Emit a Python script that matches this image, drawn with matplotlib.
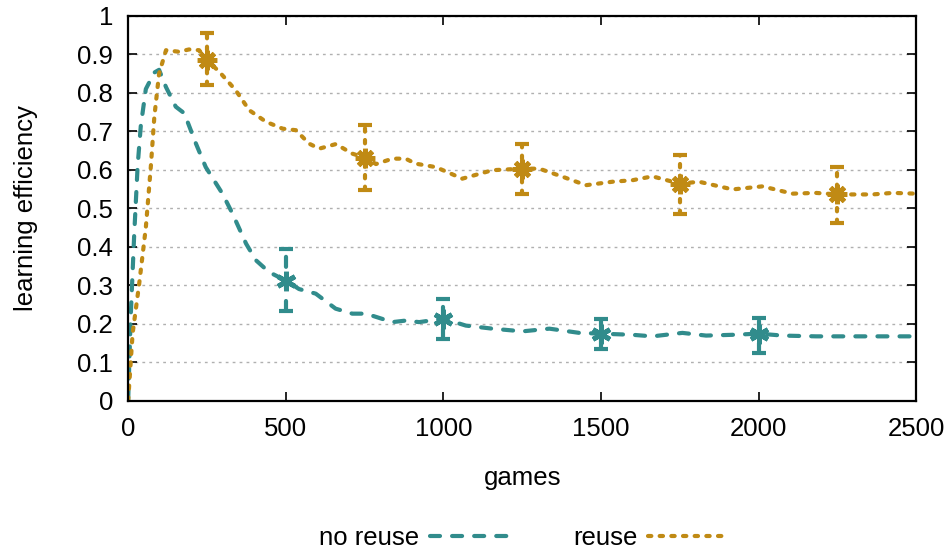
import numpy as np
import matplotlib.pyplot as plt

plt.rcParams['font.family'] = ['Liberation Sans', 'DejaVu Sans']

# no reuse curve
games_a = [0, 8, 19, 30, 40, 56, 83, 98, 120, 151, 178, 215, 246, 299, 331, 374, 405, 447,
           500, 542, 595, 658, 711, 754, 838, 880, 923, 1000, 1071, 1155, 1251, 1336, 1431,
           1500, 1600, 1663, 1758, 1833, 1917, 2000, 2076, 2182, 2288, 2393, 2500]
eff_a = [0, 0.217, 0.43, 0.61, 0.714, 0.81, 0.853, 0.86, 0.815, 0.764, 0.747, 0.668, 0.607,
         0.538, 0.486, 0.408, 0.365, 0.334, 0.312, 0.29, 0.278, 0.239, 0.226, 0.226, 0.204,
         0.208, 0.204, 0.213, 0.195, 0.187, 0.18, 0.187, 0.176, 0.174, 0.171, 0.167, 0.176,
         0.169, 0.171, 0.174, 0.169, 0.167, 0.167, 0.167, 0.167]
err_x_a = [500, 1000, 1500, 2000]
err_y_a = [0.312, 0.213, 0.174, 0.174]
err_lo_a = [0.234, 0.161, 0.133, 0.124]
err_hi_a = [0.395, 0.263, 0.211, 0.215]

# reuse curve
games_b = [0, 14, 35, 56, 72, 83, 98, 120, 161, 193, 225, 250, 289, 341, 384, 437, 490, 532,
           574, 606, 659, 711, 750, 786, 838, 880, 912, 976, 1060, 1155, 1250, 1304, 1378,
           1452, 1536, 1600, 1663, 1750, 1811, 1917, 2012, 2107, 2181, 2250, 2361, 2425, 2500]
eff_b = [0, 0.174, 0.304, 0.45, 0.61, 0.738, 0.85, 0.911, 0.907, 0.913, 0.911, 0.885, 0.855,
         0.807, 0.755, 0.725, 0.707, 0.703, 0.668, 0.655, 0.667, 0.642, 0.632, 0.615, 0.629,
         0.629, 0.616, 0.607, 0.577, 0.599, 0.603, 0.603, 0.582, 0.56, 0.569, 0.573, 0.583,
         0.564, 0.569, 0.549, 0.557, 0.538, 0.54, 0.536, 0.536, 0.54, 0.538]
err_x_b = [250, 750, 1250, 1750, 2250]
err_y_b = [0.885, 0.632, 0.603, 0.564, 0.536]
err_lo_b = [0.82, 0.548, 0.538, 0.486, 0.462]
err_hi_b = [0.955, 0.716, 0.667, 0.638, 0.608]

teal = '#318c8c'
gold = '#c08a14'
dash_a = (2.4, 2.9)
dash_b = (0.8, 2.0)

fig = plt.figure(figsize=(9.53, 5.51), dpi=100)
ax = fig.add_axes([0.1345, 0.273, 0.827, 0.698])

ax.plot(games_a, eff_a, color=teal, lw=3, dashes=dash_a, dash_capstyle='round',
        label='no reuse')
ax.plot(games_b, eff_b, color=gold, lw=3, dashes=dash_b, dash_capstyle='round',
        label='reuse')


def draw_err(x, y, lo, hi, color, dashes, marker):
    y = np.array(y)
    yerr = [y - np.array(lo), np.array(hi) - y]
    _, caps, bars = ax.errorbar(x, y, yerr=yerr, fmt='none', ecolor=color, elinewidth=3,
                                capsize=5, capthick=3)
    for b in bars:
        b.set_linestyle((0, dashes))
        b.set_capstyle('round')
    ax.plot(x, y, linestyle='none', marker=marker, ms=14, mew=3.5, color=color)


draw_err(err_x_a, err_y_a, err_lo_a, err_hi_a, teal, dash_a, (6, 2, 0))
draw_err(err_x_b, err_y_b, err_lo_b, err_hi_b, gold, dash_b, (8, 2, 0))

ax.set_xlim(0, 2500)
ax.set_ylim(0, 1)
ax.set_xticks([0, 500, 1000, 1500, 2000, 2500])
ax.set_yticks(np.arange(0, 1.01, 0.1))
ax.set_yticklabels(['0', '0.1', '0.2', '0.3', '0.4', '0.5', '0.6', '0.7', '0.8', '0.9', '1'])
ax.tick_params(direction='in', top=True, right=True, labelsize=18.5, length=6.5, width=1.2)
ax.tick_params(axis='x', pad=12)
ax.tick_params(axis='y', pad=11)
ax.yaxis.grid(True, color='#b0b0b0', linestyle=(0, (2, 3)), lw=1)
for s in ax.spines.values():
    s.set_linewidth(1.6)

ax.set_xlabel('games', fontsize=18.5, labelpad=18)
ax.set_ylabel('learning efficiency', fontsize=18.5, labelpad=28)

fig.legend(loc='center', bbox_to_anchor=(0.548, 0.024), ncol=2, frameon=False, fontsize=18.5,
           markerfirst=False, handlelength=3, columnspacing=2.6, handletextpad=0.4)

fig.savefig('out.png', dpi=100)
